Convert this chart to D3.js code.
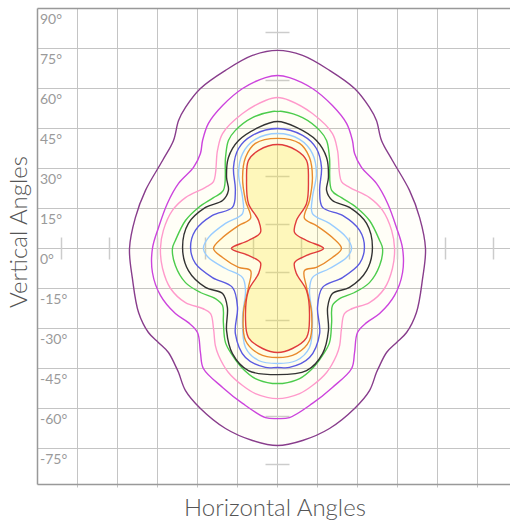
<!DOCTYPE html>
<html>
<head>
<meta charset="utf-8">
<script src="https://cdn.jsdelivr.net/npm/d3@7"></script>
<style>
  body { margin: 0; background: #fff; }
  svg { display: block; font-family: "Lato", "Open Sans", sans-serif; font-weight: 300; }
</style>
</head>
<body>
<svg id="chart"></svg>
<script>
// grid + labels
let gridAngles = [-75, -60, -45, -30, -15, 0, 15, 30, 45, 60, 75];
let yTickLabels = [90, 75, 60, 45, 30, 15, 0, -15, -30, -45, -60, -75];
let crossMarks = [-81, -63, -45, -27, -9, 9, 27, 45, 63, 81];

// contour lines, right half [horizontal, vertical] in degrees, top -> bottom
let purple = [[0,74.3],[9.4,72.4],[19.5,66.8],[28.9,60],[34.5,52.9],[37.1,48],[39,40.5],[43.1,33],[49.5,21.8],[53.3,11.6],[55.5,0],[54.4,-11.3],[52.1,-24],[48.4,-31.5],[44.6,-35.3],[40.9,-39],[38.3,-43.9],[37.1,-46.5],[34.5,-53.3],[28.9,-60],[19.5,-67.5],[9.4,-72],[0,-73.9]];
let magenta = [[0,64.9],[4.5,64.1],[13.1,60],[20.6,53.6],[25.9,46.9],[28.1,40.5],[28.9,35.6],[31.5,30.4],[37.1,24.4],[41.3,16.9],[44.6,7.9],[46.9,0],[46.9,-9],[43.9,-17.6],[38.3,-24.4],[33.4,-27.8],[30,-31.5],[28.9,-39],[27.8,-45],[20.6,-52.1],[13.1,-58.1],[4.5,-63.4],[0,-63.8]];
let pink = [[0,56.6],[4.5,55.5],[13.1,50.6],[20.6,43.1],[22.5,36.8],[24,25.1],[27,22.9],[34.5,19.1],[39.4,14.3],[42.8,6.8],[43.9,0],[43.1,-7.5],[40.1,-15],[34.5,-20.3],[28.1,-22.5],[25.1,-24.4],[24,-30],[23.3,-36.4],[22.1,-40.1],[18.4,-46.5],[13.1,-51.4],[8.3,-54.4],[0,-56.3]];
let green = [[0,51.4],[1.9,51.4],[9.4,49.1],[15.8,44.3],[18.4,40.5],[19.5,34.1],[20.3,21.8],[24,19.1],[29.6,15.4],[34.5,10.5],[38.3,3],[39.4,0],[38.3,-6.4],[34.5,-12.8],[28.9,-16.5],[23.3,-18.8],[20.6,-21.4],[20.3,-27.8],[19.5,-35.3],[16.9,-40.1],[13.1,-45],[8.3,-48.8],[1.9,-50.6],[0,-50.6]];
let black = [[0,47.6],[7.1,45.4],[14.6,40.5],[18.4,34.1],[19.1,26.6],[18.4,21.8],[20.6,18],[27,15.4],[33.4,9.4],[35.6,0.4],[33.4,-8.3],[27,-14.6],[20.6,-16.9],[18.8,-22.1],[19.1,-30.8],[16.9,-39.4],[10.9,-45.8],[0,-47.3]];
let blue = [[0,45],[9.4,42.4],[14.6,37.5],[16.5,30.4],[15.8,21.8],[16.9,15.4],[24.4,12.4],[30.8,6.8],[32.6,0.4],[30.8,-5.6],[24.4,-10.9],[16.9,-14.6],[15,-22.1],[15.8,-31.9],[12,-40.9],[4.5,-44.6],[0,-44.6]];
let lightBlue = [[0,43.1],[8.3,40.9],[13.1,35.6],[14.6,28.1],[13.1,19.1],[13.1,13.1],[19.5,9.4],[25.9,4.1],[27.8,0],[25.9,-3.4],[19.5,-7.5],[13.1,-10.9],[12,-15.8],[13.1,-25.9],[12,-37.1],[7.1,-42],[0,-43.1]];
let orange = [[0,41.3],[8.3,39.4],[12,34.1],[13.1,26.6],[12,18],[10.1,11.3],[14.6,8.6],[20.6,4.1],[24,0],[20.6,-3.4],[14.6,-7.1],[10.1,-8.3],[10.9,-14.6],[12.8,-24.4],[12,-34.5],[7.1,-39.4],[0,-40.9]];
let red = [[0,39],[7.1,36.8],[10.9,33],[11.6,25.5],[10.9,16.9],[7.1,10.5],[6.4,6],[10.9,3],[17.3,0],[10.9,-2.6],[6.4,-5.3],[7.1,-9.4],[10.9,-15.8],[12,-25.9],[10.9,-33.4],[5.6,-37.5],[0,-39]];

let contours = [purple, magenta, pink, green, black, blue, lightBlue, orange, red];
let colors = ["#883d8c", "#cc44dd", "#ff9acb", "#4ccc4c", "#333333", "#5a5ae0", "#99ccff", "#e88a2c", "#e03c3c"];
let fillOpacity = [0.025, 0.01, 0.01, 0.01, 0.01, 0.015, 0.02, 0.05, 0.26];

let width = 510, height = 522;
let plot = {left: 37.5, top: 8.5, bottom: 484.5, right: 517.5};

let x = d3.scaleLinear().domain([-90, 90]).range([plot.left, plot.right]);
let y = d3.scaleLinear().domain([90, -90]).range([plot.top, 488.5]);

const svg = d3.select("#chart")
    .attr("width", width)
    .attr("height", height);

svg.append("defs").append("clipPath").attr("id", "clip")
  .append("rect")
    .attr("x", plot.left).attr("y", plot.top)
    .attr("width", plot.right - plot.left).attr("height", plot.bottom - plot.top);

// grid
const grid = svg.append("g").attr("stroke", "#c4c4c4").attr("stroke-width", 1);
grid.selectAll(".v").data(gridAngles).join("line")
    .attr("x1", d => x(d)).attr("x2", d => x(d))
    .attr("y1", plot.top).attr("y2", plot.bottom + 3);
grid.selectAll(".h").data(yTickLabels.filter(d => d !== 90)).join("line")
    .attr("x1", plot.left).attr("x2", width)
    .attr("y1", d => y(d)).attr("y2", d => y(d));

// center cross marks
const marks = svg.append("g").attr("stroke", "#cccccc").attr("stroke-width", 1.5);
marks.selectAll(".mh").data(crossMarks).join("line")
    .attr("x1", d => x(d)).attr("x2", d => x(d))
    .attr("y1", y(0) - 11).attr("y2", y(0) + 11);
marks.selectAll(".mv").data(crossMarks).join("line")
    .attr("x1", x(0) - 12).attr("x2", x(0) + 12)
    .attr("y1", d => y(d)).attr("y2", d => y(d));

// contours
const line = d3.line()
    .x(d => x(d[0]))
    .y(d => y(d[1]))
    .curve(d3.curveCatmullRomClosed.alpha(0.5));

function closedShape(half){
    let left = half.slice(1, -1).reverse().map(d => [-d[0], d[1]]);
    return half.concat(left);
}

const cg = svg.append("g").attr("clip-path", "url(#clip)");
cg.selectAll("path")
  .data(contours)
  .join("path")
    .attr("d", d => line(closedShape(d)))
    .attr("fill", "rgb(250,232,70)")
    .attr("fill-opacity", (d, i) => fillOpacity[i])
    .attr("stroke", (d, i) => colors[i])
    .attr("stroke-width", 1.4);

// axes frame
svg.append("g").attr("stroke", "#999").attr("stroke-width", 1.5)
    .call(g => g.append("line").attr("x1", plot.left).attr("x2", plot.left).attr("y1", plot.top).attr("y2", plot.bottom))
    .call(g => g.append("line").attr("x1", plot.left).attr("x2", width).attr("y1", plot.top).attr("y2", plot.top))
    .call(g => g.append("line").attr("x1", plot.left).attr("x2", width).attr("y1", plot.bottom).attr("y2", plot.bottom));

// y labels
svg.append("g")
    .attr("fill", "#9a9a9a")
    .attr("font-size", 14)
    .attr("font-weight", 400)
  .selectAll("text")
  .data(yTickLabels)
  .join("text")
    .attr("x", 40)
    .attr("y", d => y(d) + 15)
    .text(d => d + "°");

// titles
svg.append("text")
    .attr("x", 275).attr("y", 516)
    .attr("text-anchor", "middle")
    .attr("fill", "#555")
    .attr("font-size", 24)
    .text("Horizontal Angles");

svg.append("text")
    .attr("transform", "translate(27,232) rotate(-90)")
    .attr("text-anchor", "middle")
    .attr("fill", "#555")
    .attr("font-size", 24)
    .text("Vertical Angles");
</script>
</body>
</html>
